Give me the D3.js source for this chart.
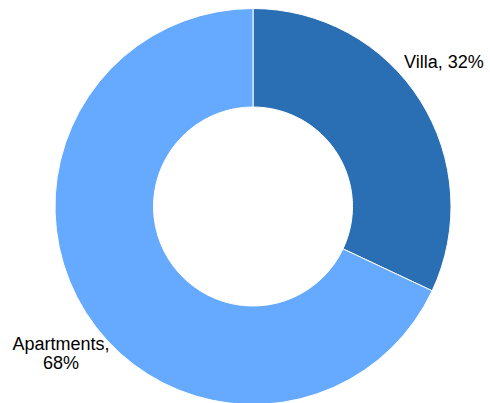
<!DOCTYPE html>
<html><head><meta charset="utf-8">
<script src="https://cdn.jsdelivr.net/npm/d3@7"></script>
<style>html,body{margin:0;padding:0;background:#fff;}</style>
</head><body>
<svg id="c" width="490" height="403"></svg>
<script>
const categories = ["Villa", "Apartments"];
const values = [32, 68];
const colors = ["#2a6fb3", "#66aaff"];

const svg = d3.select("#c");
const cx = 253, cy = 206.5, outerR = 198, innerR = 99.5;
const g = svg.append("g").attr("transform", `translate(${cx},${cy})`);
const data = categories.map((c, i) => ({cat: c, val: values[i], color: colors[i]}));
const pie = d3.pie().value(d => d.val).sort(null);
const arc = d3.arc().innerRadius(innerR).outerRadius(outerR);
const arcs = pie(data);
g.selectAll("path").data(arcs).join("path")
  .attr("d", arc).attr("fill", d => d.data.color)
  .attr("stroke", "#fff").attr("stroke-width", 1);

// labels
const labelPos = [{x: 404, y: 68, anchor: "start", lines: [d => `${d.cat}, ${d.val}%`]},
                  {x: 61, y: 350, anchor: "middle", lines: [d => `${d.cat},`, d => `${d.val}%`]}];
arcs.forEach((a, i) => {
  const p = labelPos[i];
  const t = svg.append("text").attr("x", p.x).attr("y", p.y)
    .attr("text-anchor", p.anchor)
    .style("font-family", "Liberation Sans, Arial, sans-serif")
    .style("font-size", "18px").attr("fill", "#000");
  p.lines.forEach((f, j) => {
    t.append("tspan").attr("x", p.x).attr("dy", j === 0 ? 0 : 19).text(f(a.data));
  });
});
</script>
</body></html>
